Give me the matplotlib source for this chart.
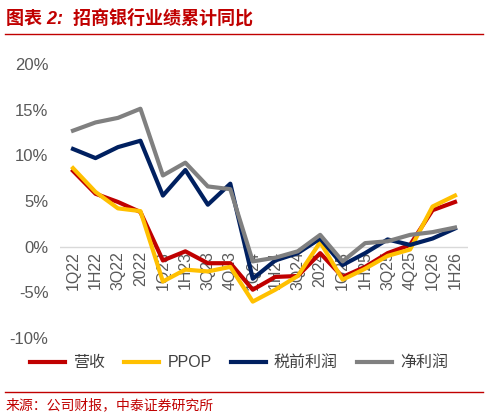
import matplotlib.pyplot as plt
from matplotlib.lines import Line2D

plt.rcParams['font.family'] = ['Liberation Sans', 'Noto Sans CJK SC', 'DejaVu Sans']

periods = ['1Q22', '1H22', '3Q22', '2022', '1Q23', '1H23', '3Q23', '4Q23', '1Q24', '1H24',
           '3Q24', '2024', '1Q25', '1H25', '3Q25', '4Q25', '1Q26', '1H26']
revenue = [8.3, 5.8, 4.9, 3.8, -1.5, -0.5, -1.8, -1.8, -4.7, -3.3, -3.2, -0.7, -3.3, -2.2, -0.7, 0.2, 4.0, 4.9]
ppop = [8.6, 6.0, 4.2, 3.9, -3.8, -2.5, -2.7, -2.2, -6.0, -4.7, -3.2, 0.5, -3.6, -2.4, -1.0, -0.3, 4.4, 5.6]
pretax = [10.7, 9.7, 10.9, 11.6, 5.6, 8.4, 4.6, 6.9, -3.5, -1.5, -0.7, 0.9, -2.0, -0.7, 0.8, 0.2, 0.9, 2.0]
net = [12.7, 13.6, 14.1, 15.1, 7.8, 9.2, 6.6, 6.3, -1.6, -1.2, -0.5, 1.3, -1.6, 0.4, 0.6, 1.3, 1.6, 2.1]

names = ['营收', 'PPOP', '税前利润', '净利润']
colors = ['#c00000', '#ffc000', '#002060', '#808080']

fig = plt.figure(figsize=(4.88, 4.18), dpi=100)
ax = fig.add_axes([0.122, 0.191, 0.838, 0.656])
x = range(len(periods))
for s, c in zip([revenue, ppop, pretax, net], colors):
    ax.plot(x, s, color=c, linewidth=3, zorder=3)
ax.axhline(0, color='#d9d9d9', linewidth=1, zorder=1)
ax.set_xlim(-0.6, 17.6)
ax.set_ylim(-10, 20)
ax.set_yticks(range(-10, 21, 5))
ax.set_yticklabels([f'{v}%' for v in range(-10, 21, 5)], color='#595959', fontsize=12)
ax.set_xticks([])
ax.tick_params(axis='y', length=0, pad=8)
for sp in ax.spines.values():
    sp.set_visible(False)
for i, p in enumerate(periods):
    ax.text(i, -0.5, p, rotation=90, ha='center', va='top', color='#595959', fontsize=11.5, zorder=2)

handles = [Line2D([], [], color=c, linewidth=3) for c in colors]
fig.legend(handles, names, loc='center', bbox_to_anchor=(0.49, 0.132), ncol=4, frameon=False,
           fontsize=11.5, handlelength=2.2, handletextpad=0.5, columnspacing=1.2, labelcolor='#404040')

fig.text(0.012, 0.955, '图表 2:  招商银行业绩累计同比', color='#c00000', fontsize=13,
         fontweight='bold', style='italic', va='center')
fig.add_artist(Line2D([0.01, 0.99], [0.918, 0.918], color='#c00000', linewidth=1))
fig.add_artist(Line2D([0.01, 0.99], [0.062, 0.062], color='#c00000', linewidth=1))
fig.text(0.012, 0.03, '来源：公司财报，中泰证券研究所', color='#c00000', fontsize=10,
         style='italic', va='center')

plt.savefig('out.png', dpi=100)
